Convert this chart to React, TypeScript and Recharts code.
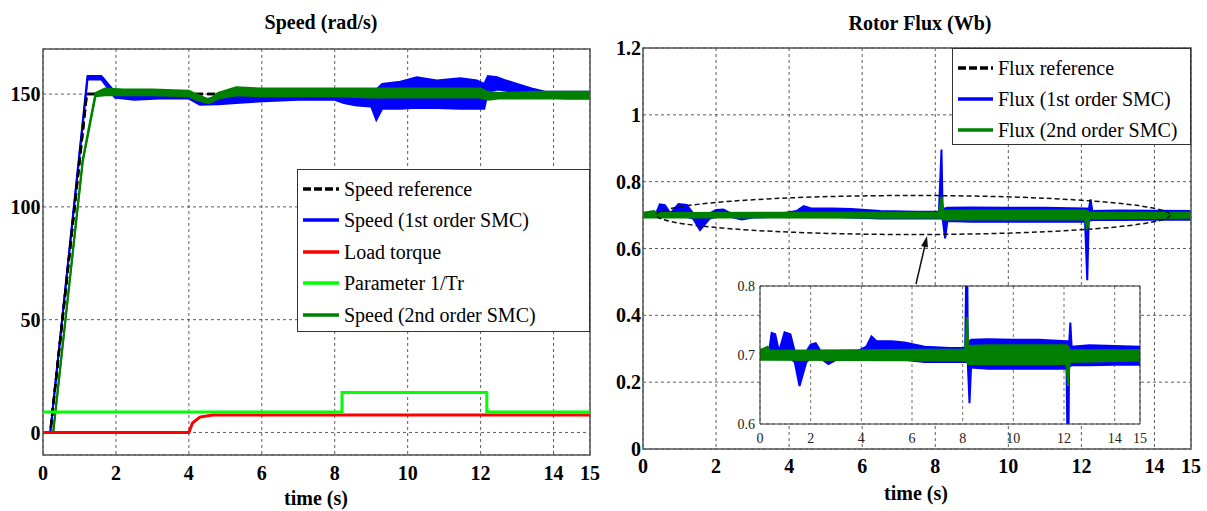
import React from "react";
import {
  ComposedChart,
  Area,
  Line,
  XAxis,
  YAxis,
  CartesianGrid,
  ReferenceArea,
} from "recharts";

const FONT = '"Liberation Serif", "Times New Roman", serif';
const BLUE = "#0000ff";
const GREEN = "#008000";
const RED = "#ff0000";
const LIME = "#00ff00";

// axes
const timeTicks = [0, 2, 4, 6, 8, 10, 12, 14, 15];
const speedTicks = [0, 50, 100, 150];
const fluxTicks = [0, 0.2, 0.4, 0.6, 0.8, 1, 1.2];
const insetTicks = [0.6, 0.7, 0.8];

// speed reference
const speedRefT = [0, 0.2, 1.2, 15];
const speedRef = [0, 0, 150, 150];

// speed, 1st order SMC (envelope of the noisy trace)
const speed1T = [0, 0.2, 1.22, 1.6, 1.97, 2.5, 3.2, 4.0, 4.3, 4.8, 5.5, 6.2, 7.0, 8.0, 8.25, 8.6, 9.0, 9.14, 9.3, 9.8, 10.25, 10.8, 11.44, 11.9, 12.1, 12.2, 12.45, 12.7, 13.0, 13.4, 13.8, 14.4, 15];
const speed1Lo = [0, 0, 156.5, 156.5, 148.5, 147.5, 148, 148, 145.3, 145.5, 146.3, 147, 147.5, 147.5, 146, 145, 144.5, 138.5, 143.5, 143.5, 144, 143.8, 143.5, 143.5, 143.5, 151, 152, 151.5, 150.5, 149.5, 148.5, 148, 148];
const speed1Hi = [0, 0, 158, 158, 151, 150.5, 150.5, 150, 147.5, 148.5, 149, 150, 151, 151, 150.5, 150.5, 151, 152, 154.5, 155.5, 157.5, 156, 157, 156, 154.5, 158, 157.5, 156, 154.5, 152.5, 151, 151, 151];

// speed, 2nd order SMC
const speed2T = [0, 0.28, 1.09, 1.44, 1.7, 2.2, 3.0, 4.0, 4.2, 4.55, 4.8, 5.3, 6.0, 7.0, 8.0, 9.0, 10.0, 11.0, 12.0, 12.2, 12.5, 13.5, 15];
const speed2Lo = [0, 0, 120, 149, 149.5, 149.5, 149.5, 149, 147.5, 146, 148, 149.5, 149, 149, 149, 148.5, 148.5, 148.5, 148.5, 147.5, 148, 148, 148];
const speed2Hi = [0, 0, 121, 150.5, 152.5, 152, 152, 151.5, 150, 147.5, 150.5, 153, 152.5, 152.5, 152.5, 152.5, 152.5, 152.5, 152.5, 151, 150.5, 151, 151];

// load torque
const loadT = [0, 4.0, 4.1, 4.3, 4.65, 15];
const load = [0, 0, 4.2, 6.8, 7.7, 7.7];

// parameter 1/Tr
const invTrT = [0, 8.2, 12.17, 15];
const invTr = [9.1, 17.7, 9.1, 9.1];

// flux reference
const fluxRefT = [0, 15];
const fluxRef = [0.7, 0.7];

// flux, 1st order SMC
const flux1T = [0, 0.35, 0.46, 0.6, 0.75, 0.97, 1.2, 1.37, 1.56, 1.83, 2.0, 2.2, 2.4, 2.7, 3.0, 3.8, 4.2, 4.4, 4.6, 5.2, 5.7, 6.5, 7.5, 8.1, 8.17, 8.2, 8.27, 8.33, 9.0, 10.0, 11.0, 12.1, 12.16, 12.2, 12.25, 12.3, 13.0, 14.0, 15];
const flux1Lo = [0.697, 0.697, 0.695, 0.695, 0.695, 0.695, 0.695, 0.69, 0.655, 0.69, 0.695, 0.695, 0.695, 0.687, 0.693, 0.695, 0.695, 0.695, 0.695, 0.695, 0.693, 0.69, 0.69, 0.69, 0.69, 0.69, 0.63, 0.682, 0.68, 0.68, 0.68, 0.68, 0.505, 0.684, 0.684, 0.685, 0.685, 0.686, 0.686];
const flux1Hi = [0.703, 0.703, 0.732, 0.73, 0.705, 0.733, 0.73, 0.705, 0.705, 0.705, 0.715, 0.717, 0.705, 0.705, 0.705, 0.705, 0.712, 0.727, 0.72, 0.72, 0.718, 0.712, 0.71, 0.71, 0.896, 0.72, 0.72, 0.722, 0.723, 0.722, 0.722, 0.72, 0.72, 0.715, 0.747, 0.712, 0.714, 0.713, 0.712];

// flux, 2nd order SMC
const flux2T = [0, 0.3, 0.4, 8.1, 8.17, 8.22, 9.0, 12.1, 12.16, 12.22, 15];
const flux2Lo = [0.693, 0.693, 0.693, 0.692, 0.69, 0.687, 0.687, 0.687, 0.655, 0.69, 0.692];
const flux2Hi = [0.707, 0.712, 0.706, 0.708, 0.755, 0.713, 0.714, 0.714, 0.712, 0.707, 0.707];

const series = (t: number[], v: number[]) => t.map((x, i) => ({ t: x, v: v[i] }));
const band = (t: number[], lo: number[], hi: number[]) =>
  t.map((x, i) => ({ t: x, v: [lo[i], hi[i]] }));

// references drawn as zero-width bands so they sit under the traces like the original
const speedRefData = band(speedRefT, speedRef, speedRef);
const speed1Data = band(speed1T, speed1Lo, speed1Hi);
const speed2Data = band(speed2T, speed2Lo, speed2Hi);
const loadData = series(loadT, load);
const invTrData = series(invTrT, invTr);
const fluxRefData = band(fluxRefT, fluxRef, fluxRef);
const flux1Data = band(flux1T, flux1Lo, flux1Hi);
const flux2Data = band(flux2T, flux2Lo, flux2Hi);

const tickStyle = { fontSize: 20, fontWeight: 700, fill: "#000", fontFamily: FONT };
const gridProps = { stroke: "#333", strokeDasharray: "3 3", strokeWidth: 0.8 };

type LegendItem = { label: string; color: string; dash?: string };

function LegendBox({ items, left, top, width, height, first, step, sample }: {
  items: LegendItem[]; left: number; top: number; width: number; height: number;
  first: number; step: number; sample: number;
}) {
  return (
    <div style={{ position: "absolute", left, top, width, height, background: "#fff", border: "1px solid #333", boxSizing: "border-box" }}>
      {items.map((it, i) => (
        <div key={it.label} style={{ position: "absolute", left: 5, top: first + i * step - 16, height: 32, display: "flex", alignItems: "center", whiteSpace: "nowrap" }}>
          <svg width={sample} height={8} style={{ display: "block" }}>
            <line x1={0} y1={4} x2={sample} y2={4} stroke={it.color} strokeWidth={3.5} strokeDasharray={it.dash} />
          </svg>
          <span style={{ marginLeft: 5, fontFamily: FONT, fontSize: 20, lineHeight: "32px", color: "#000" }}>{it.label}</span>
        </div>
      ))}
    </div>
  );
}

const speedLegend: LegendItem[] = [
  { label: "Speed reference", color: "#000", dash: "8 3" },
  { label: "Speed  (1st order SMC)", color: BLUE },
  { label: "Load torque", color: RED },
  { label: "Parameter 1/Tr", color: LIME },
  { label: "Speed (2nd order SMC)", color: GREEN },
];

const fluxLegend: LegendItem[] = [
  { label: "Flux reference", color: "#000", dash: "8 3" },
  { label: "Flux (1st order SMC)", color: BLUE },
  { label: "Flux (2nd order SMC)", color: GREEN },
];

function arrowHead(x1: number, y1: number, x2: number, y2: number, len: number, half: number) {
  const dx = x2 - x1;
  const dy = y2 - y1;
  const n = Math.hypot(dx, dy);
  const ux = dx / n;
  const uy = dy / n;
  const bx = x2 - ux * len;
  const by = y2 - uy * len;
  return `${x2},${y2} ${bx - uy * half},${by + ux * half} ${bx + uy * half},${by - ux * half}`;
}

function SpeedChart() {
  return (
    <ComposedChart width={600} height={511} margin={{ top: 49, right: 10, bottom: 0, left: 0 }}>
      <CartesianGrid {...gridProps} />
      <XAxis type="number" dataKey="t" domain={[0, 15]} ticks={timeTicks} interval={0} allowDataOverflow
        tickLine={false} axisLine={false} height={56} tickSize={8} tickMargin={3} tick={tickStyle} />
      <YAxis type="number" domain={[-10, 170]} ticks={speedTicks} interval={0} allowDataOverflow
        tickLine={false} axisLine={false} width={43} tickSize={2} tickMargin={0.5} tick={tickStyle} />
      <Area data={speed1Data} dataKey="v" type="linear" stroke={BLUE} strokeWidth={2} fill={BLUE} fillOpacity={1} dot={false} activeDot={false} isAnimationActive={false} />
      <Area data={speedRefData} dataKey="v" type="linear" stroke="#000" strokeWidth={2.5} strokeDasharray="8 4" fill="none" dot={false} activeDot={false} isAnimationActive={false} />
      <Area data={speed2Data} dataKey="v" type="linear" stroke={GREEN} strokeWidth={2} fill={GREEN} fillOpacity={1} dot={false} activeDot={false} isAnimationActive={false} />
      <Line data={loadData} dataKey="v" type="linear" stroke={RED} strokeWidth={3} dot={false} activeDot={false} isAnimationActive={false} />
      <Line data={invTrData} dataKey="v" type="stepAfter" stroke={LIME} strokeWidth={3} dot={false} activeDot={false} isAnimationActive={false} />
      <ReferenceArea x1={0} x2={15} y1={-10} y2={170} fill="none" stroke="#555" strokeWidth={1.5} ifOverflow="visible" />
    </ComposedChart>
  );
}

function FluxChart() {
  return (
    <ComposedChart width={607} height={511} margin={{ top: 48, right: 16, bottom: 0, left: 0 }}>
      <CartesianGrid {...gridProps} />
      <XAxis type="number" dataKey="t" domain={[0, 15]} ticks={timeTicks} interval={0} allowDataOverflow
        tickLine={false} axisLine={false} height={62} tickSize={8} tickMargin={2} tick={tickStyle} />
      <YAxis type="number" domain={[0, 1.2]} ticks={fluxTicks} interval={0} allowDataOverflow
        tickLine={false} axisLine={false} width={43} tickSize={2} tickMargin={0} tick={tickStyle} />
      <Area data={fluxRefData} dataKey="v" type="linear" stroke="#000" strokeWidth={2.5} strokeDasharray="8 4" fill="none" dot={false} activeDot={false} isAnimationActive={false} />
      <Area data={flux1Data} dataKey="v" type="linear" stroke={BLUE} strokeWidth={2} fill={BLUE} fillOpacity={1} dot={false} activeDot={false} isAnimationActive={false} />
      <Area data={flux2Data} dataKey="v" type="linear" stroke={GREEN} strokeWidth={2} fill={GREEN} fillOpacity={1} dot={false} activeDot={false} isAnimationActive={false} />
      <ReferenceArea x1={0} x2={15} y1={0} y2={1.2} fill="none" stroke="#555" strokeWidth={1.5} ifOverflow="visible" />
    </ComposedChart>
  );
}

function FluxInset() {
  const small = { fontSize: 14, fill: "#222", fontFamily: FONT };
  return (
    <ComposedChart width={460} height={180} margin={{ top: 10, right: 20, bottom: 0, left: 0 }}>
      <CartesianGrid stroke="#333" strokeDasharray="3 3" strokeWidth={0.7} />
      <XAxis type="number" dataKey="t" domain={[0, 15]} ticks={timeTicks} interval={0} allowDataOverflow
        tickLine={false} axisLine={false} height={32} tickSize={6} tickMargin={3} tick={small} />
      <YAxis type="number" domain={[0.6, 0.8]} ticks={insetTicks} interval={0} allowDataOverflow
        tickLine={false} axisLine={false} width={60} tickSize={4} tickMargin={1} tick={small} />
      <Area data={flux1Data} dataKey="v" type="linear" stroke={BLUE} strokeWidth={2} fill={BLUE} fillOpacity={1} dot={false} activeDot={false} isAnimationActive={false} />
      <Area data={flux2Data} dataKey="v" type="linear" stroke={GREEN} strokeWidth={2} fill={GREEN} fillOpacity={1} dot={false} activeDot={false} isAnimationActive={false} />
      <ReferenceArea x1={0} x2={15} y1={0.6} y2={0.8} fill="none" stroke="#333" strokeWidth={1} ifOverflow="visible" />
    </ComposedChart>
  );
}

export default function App() {
  return (
    <div style={{ position: "fixed", left: 0, top: 0, width: 1207, height: 511, background: "#fff", overflow: "hidden" }}>
      <div style={{ position: "absolute", left: 0, top: 0 }}>
        <SpeedChart />
      </div>
      <div style={{ position: "absolute", left: 600, top: 0 }}>
        <FluxChart />
      </div>
      <LegendBox items={speedLegend} left={297} top={169} width={293} height={163} first={18.5} step={31.5} sample={36} />
      <LegendBox items={fluxLegend} left={952} top={48} width={239} height={97} first={18.5} step={31} sample={35} />
      <svg width={1207} height={511} style={{ position: "absolute", left: 0, top: 0, pointerEvents: "none" }}>
        <text x={321} y={28.5} textAnchor="middle" fontFamily={FONT} fontSize={20} fontWeight={700}>Speed (rad/s)</text>
        <text x={920} y={30} textAnchor="middle" fontFamily={FONT} fontSize={20} fontWeight={700}>Rotor Flux (Wb)</text>
        <text x={316} y={505} textAnchor="middle" fontFamily={FONT} fontSize={20} fontWeight={700}>time (s)</text>
        <text x={916} y={500} textAnchor="middle" fontFamily={FONT} fontSize={20} fontWeight={700}>time (s)</text>
        <ellipse cx={913} cy={215} rx={257} ry={19.5} fill="none" stroke="#111" strokeWidth={1.5} strokeDasharray="5 3" />
        <line x1={916} y1={284} x2={926} y2={241} stroke="#111" strokeWidth={1.5} />
        <polygon points={arrowHead(916, 284, 927, 236, 11, 3.5)} fill="#111" />
      </svg>
      <div style={{ position: "absolute", left: 760, top: 286, width: 380, height: 138, background: "#fff" }} />
      <div style={{ position: "absolute", left: 700, top: 276 }}>
        <FluxInset />
      </div>
    </div>
  );
}
